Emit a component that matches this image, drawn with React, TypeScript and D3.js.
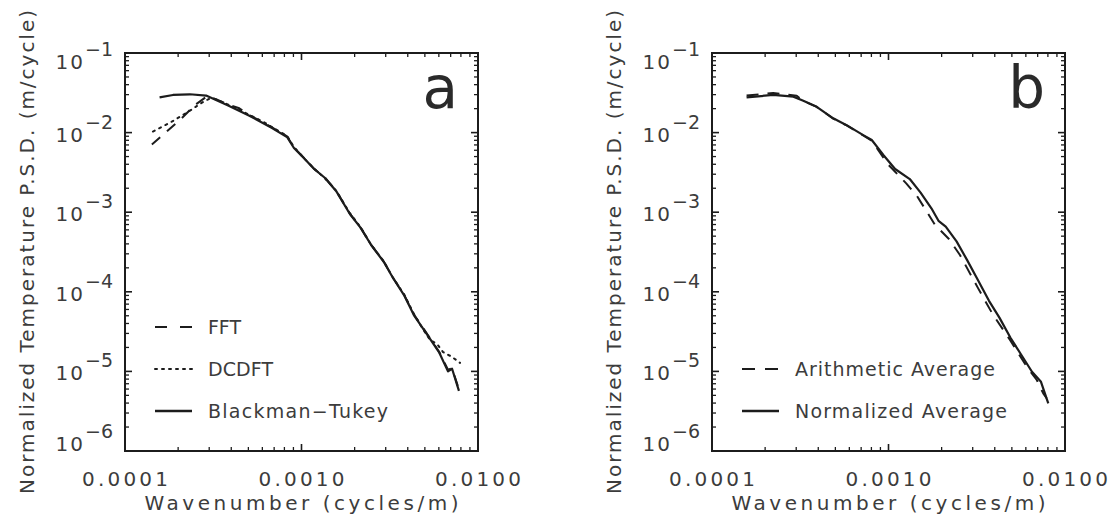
import React from "react";
import * as d3 from "d3";

// ---------- data (wavenumber in cycles/m, PSD in m/cycle) ----------
const xTickValues = [1e-4, 1e-3, 1e-2];
const xTickLabels = ["0.0001", "0.0010", "0.0100"];
const yTickExponents = [-1, -2, -3, -4, -5, -6];
const minorMultipliers = [2, 3, 4, 5, 6, 7, 8, 9];

// Panel a
const fftK = [1.42e-4, 2.05e-4, 2.49e-4, 2.88e-4, 3.3e-4, 3.84e-4, 4.4e-4, 5.1e-4, 5.8e-4, 6.81e-4, 8.28e-4, 9.06e-4, 1.03e-3, 1.18e-3, 1.36e-3, 1.57e-3, 1.88e-3, 2.17e-3, 2.48e-3, 2.93e-3, 3.3e-3, 3.81e-3, 4.33e-3, 5.21e-3, 6.01e-3, 6.76e-3, 7.13e-3, 7.8e-3];
const fftP = [7.1e-3, 1.44e-2, 2.22e-2, 2.8e-2, 2.62e-2, 2.25e-2, 2.04e-2, 1.64e-2, 1.42e-2, 1.16e-2, 9.0e-3, 6.5e-3, 4.85e-3, 3.5e-3, 2.7e-3, 1.86e-3, 9.6e-4, 6.3e-4, 3.9e-4, 2.38e-4, 1.5e-4, 9.2e-5, 5.2e-5, 2.85e-5, 1.78e-5, 1.05e-5, 1.1e-5, 5.9e-6];
const dcdftK = [1.44e-4, 1.84e-4, 2.3e-4, 2.78e-4, 3.1e-4, 3.84e-4, 4.6e-4, 5.1e-4, 6.2e-4, 6.81e-4, 8.28e-4, 9.06e-4, 1.03e-3, 1.18e-3, 1.36e-3, 1.57e-3, 1.88e-3, 2.17e-3, 2.48e-3, 2.93e-3, 3.3e-3, 3.81e-3, 4.33e-3, 4.8e-3, 5.35e-3, 5.86e-3, 6.34e-3, 7.13e-3, 7.91e-3];
const dcdftP = [1.03e-2, 1.37e-2, 1.85e-2, 2.44e-2, 2.75e-2, 2.25e-2, 1.86e-2, 1.66e-2, 1.33e-2, 1.17e-2, 9.1e-3, 6.6e-3, 4.8e-3, 3.52e-3, 2.66e-3, 1.87e-3, 9.7e-4, 6.4e-4, 3.9e-4, 2.4e-4, 1.5e-4, 9.3e-5, 5.3e-5, 3.6e-5, 2.48e-5, 2.21e-5, 1.75e-5, 1.52e-5, 1.28e-5];
const btK = [1.57e-4, 1.87e-4, 2.33e-4, 2.88e-4, 3.84e-4, 5.1e-4, 6.81e-4, 8.28e-4, 9.06e-4, 1.03e-3, 1.18e-3, 1.36e-3, 1.57e-3, 1.88e-3, 2.17e-3, 2.48e-3, 2.93e-3, 3.3e-3, 3.81e-3, 4.33e-3, 5.21e-3, 6.01e-3, 6.76e-3, 7.13e-3, 7.8e-3];
const btP = [2.77e-2, 2.97e-2, 3.03e-2, 2.92e-2, 2.19e-2, 1.62e-2, 1.14e-2, 8.8e-3, 6.4e-3, 4.8e-3, 3.49e-3, 2.69e-3, 1.85e-3, 9.5e-4, 6.3e-4, 3.87e-4, 2.37e-4, 1.49e-4, 9.1e-5, 5.1e-5, 2.79e-5, 1.75e-5, 1.0e-5, 1.08e-5, 5.7e-6];

// Panel b
const arithK = [1.57e-4, 2.22e-4, 3.02e-4, 3.29e-4, 3.92e-4, 4.86e-4, 5.79e-4, 7.19e-4, 8.04e-4, 9.93e-4, 1.26e-3, 1.45e-3, 1.83e-3, 2.2e-3, 2.54e-3, 3.21e-3, 3.88e-3, 4.87e-3, 6.07e-3, 6.92e-3, 7.53e-3, 7.87e-3];
const arithP = [2.92e-2, 3.14e-2, 2.9e-2, 2.5e-2, 2.1e-2, 1.5e-2, 1.23e-2, 9.2e-3, 7.9e-3, 4.0e-3, 2.3e-3, 1.6e-3, 7.0e-4, 4.6e-4, 2.9e-4, 1.12e-4, 5.3e-5, 2.5e-5, 1.15e-5, 7.8e-6, 5.3e-6, 4.6e-6];
const normK = [1.57e-4, 2.22e-4, 2.89e-4, 3.29e-4, 3.92e-4, 4.86e-4, 5.79e-4, 7.19e-4, 8.04e-4, 9.35e-4, 1.09e-3, 1.32e-3, 1.52e-3, 1.75e-3, 1.92e-3, 2.11e-3, 2.43e-3, 2.79e-3, 3.21e-3, 3.71e-3, 4.25e-3, 4.91e-3, 5.65e-3, 6.5e-3, 7.31e-3, 8.04e-3];
const normP = [2.77e-2, 2.97e-2, 2.83e-2, 2.52e-2, 2.11e-2, 1.51e-2, 1.24e-2, 9.3e-3, 8.07e-3, 5.24e-3, 3.49e-3, 2.61e-3, 1.76e-3, 1.12e-3, 7.8e-4, 6.6e-4, 4.3e-4, 2.5e-4, 1.41e-4, 7.7e-5, 4.74e-5, 2.64e-5, 1.62e-5, 9.9e-6, 7.4e-6, 3.97e-6];

const legendLabelsA = ["FFT", "DCDFT", "Blackman\u2212Tukey"];
const legendLabelsB = ["Arithmetic Average", "Normalized Average"];
const panelLetters = ["a", "b"];
const xTitle = "Wavenumber (cycles/m)";
const yTitle = "Normalized Temperature P.S.D. (m/cycle)";

// ---------- layout / style ----------
const W = 1114;
const H = 529;
const TOP = 53;
const BOTTOM = 451;
const PW = 353;
const LEFTS = [125, 712];
const FONT = "'DejaVu Sans', 'Liberation Sans', sans-serif";
const TEXT = "#3c3c3c";
const INK = "#1c1c1c";

type Series = { k: number[]; p: number[]; dash: string | null; width: number };
type LegendItem = { label: string; dash: string | null; len: number };

function Panel(props: {
  left: number;
  series: Series[];
  legend: LegendItem[];
  letter: string;
}) {
  const { left, series, legend, letter } = props;
  const right = left + PW;
  const x = d3.scaleLog().domain([1e-4, 1e-2]).range([left, right]);
  const y = d3.scaleLog().domain([1e-6, 1e-1]).range([BOTTOM, TOP]);
  const line = d3
    .line<[number, number]>()
    .x((d) => x(d[0]))
    .y((d) => y(d[1]));

  const xMinor: number[] = [];
  [1e-4, 1e-3].forEach((d) => minorMultipliers.forEach((m) => xMinor.push(m * d)));
  const yMinor: number[] = [];
  [1e-6, 1e-5, 1e-4, 1e-3, 1e-2].forEach((d) =>
    minorMultipliers.forEach((m) => yMinor.push(m * d))
  );

  const MAJ = 7;
  const MIN = 4;

  return (
    <g>
      {series.map((s, i) => (
        <path
          key={"s" + i}
          d={line(s.k.map((k, j) => [k, s.p[j]] as [number, number])) || ""}
          fill="none"
          stroke={INK}
          strokeWidth={s.width}
          strokeDasharray={s.dash || undefined}
          strokeLinejoin="round"
          strokeLinecap={s.dash === "2,5" ? "round" : "butt"}
        />
      ))}

      {xTickValues.map((v, i) => (
        <g key={"xM" + i}>
          <line x1={x(v)} x2={x(v)} y1={BOTTOM} y2={BOTTOM - MAJ} stroke={INK} strokeWidth={1.6} />
          <line x1={x(v)} x2={x(v)} y1={TOP} y2={TOP + MAJ} stroke={INK} strokeWidth={1.6} />
        </g>
      ))}
      {xMinor.map((v, i) => (
        <g key={"xm" + i}>
          <line x1={x(v)} x2={x(v)} y1={BOTTOM} y2={BOTTOM - MIN} stroke={INK} strokeWidth={1.3} />
          <line x1={x(v)} x2={x(v)} y1={TOP} y2={TOP + MIN} stroke={INK} strokeWidth={1.3} />
        </g>
      ))}
      {yTickExponents.map((e, i) => {
        const yy = y(Math.pow(10, e));
        return (
          <g key={"yM" + i}>
            <line x1={left} x2={left + MAJ} y1={yy} y2={yy} stroke={INK} strokeWidth={1.6} />
            <line x1={right} x2={right - MAJ} y1={yy} y2={yy} stroke={INK} strokeWidth={1.6} />
          </g>
        );
      })}
      {yMinor.map((v, i) => (
        <g key={"ym" + i}>
          <line x1={left} x2={left + MIN} y1={y(v)} y2={y(v)} stroke={INK} strokeWidth={1.3} />
          <line x1={right} x2={right - MIN} y1={y(v)} y2={y(v)} stroke={INK} strokeWidth={1.3} />
        </g>
      ))}

      <rect x={left} y={TOP} width={PW} height={BOTTOM - TOP} fill="none" stroke={INK} strokeWidth={2} />

      {xTickValues.map((v, i) => (
        <text
          key={"xl" + i}
          x={x(v)}
          y={BOTTOM + 35}
          textAnchor="middle"
          fontFamily={FONT}
          fontSize={20}
          fill={TEXT}
          textLength={86}
          lengthAdjust="spacing"
        >
          {xTickLabels[i]}
        </text>
      ))}

      {yTickExponents.map((e, i) => {
        const c = Math.max(TOP + 9, Math.min(BOTTOM - 7, y(Math.pow(10, e)) + 2));
        return (
          <text
            key={"yl" + i}
            x={left - 12}
            y={c + 7}
            textAnchor="end"
            fontFamily={FONT}
            fontSize={20}
            fill={TEXT}
          >
            <tspan letterSpacing={2}>10</tspan>
            <tspan dy={-13} fontSize={19}>
              {"\u2212" + Math.abs(e)}
            </tspan>
          </text>
        );
      })}

      <text
        x={(left + right) / 2}
        y={510}
        textAnchor="middle"
        fontFamily={FONT}
        fontSize={20}
        fill={TEXT}
        textLength={314}
        lengthAdjust="spacing"
      >
        {xTitle}
      </text>
      <text
        transform={`translate(${left - 91},252) rotate(-90)`}
        textAnchor="middle"
        fontFamily={FONT}
        fontSize={20}
        fill={TEXT}
        textLength={484}
        lengthAdjust="spacing"
      >
        {yTitle}
      </text>

      <text
        x={right - 20}
        y={108}
        textAnchor="end"
        fontFamily={FONT}
        fontSize={58}
        fill="#2a2a2a"
      >
        {letter}
      </text>

      {legend.map((item, i) => {
        const ry = BOTTOM - 40 - (legend.length - 1 - i) * 42;
        return (
          <g key={"lg" + i}>
            <line
              x1={left + 30}
              x2={left + 67}
              y1={ry}
              y2={ry}
              stroke={INK}
              strokeWidth={item.dash ? 2 : 2.4}
              strokeDasharray={item.dash || undefined}
              strokeLinecap={item.dash === "2,5" ? "round" : "butt"}
            />
            <text
              x={left + 83}
              y={ry + 7}
              fontFamily={FONT}
              fontSize={19}
              fill={TEXT}
              textLength={item.len}
              lengthAdjust="spacing"
            >
              {item.label}
            </text>
          </g>
        );
      })}
    </g>
  );
}

export default function App() {
  const seriesA: Series[] = [
    { k: fftK, p: fftP, dash: "11,9", width: 2 },
    { k: dcdftK, p: dcdftP, dash: "2,5", width: 2 },
    { k: btK, p: btP, dash: null, width: 2.2 },
  ];
  const seriesB: Series[] = [
    { k: arithK, p: arithP, dash: "12,9", width: 2 },
    { k: normK, p: normP, dash: null, width: 2.2 },
  ];
  const legendA: LegendItem[] = [
    { label: legendLabelsA[0], dash: "12,13", len: 33 },
    { label: legendLabelsA[1], dash: "2,5", len: 65 },
    { label: legendLabelsA[2], dash: null, len: 180 },
  ];
  const legendB: LegendItem[] = [
    { label: legendLabelsB[0], dash: "13,10", len: 200 },
    { label: legendLabelsB[1], dash: null, len: 212 },
  ];
  return (
    <svg
      width={W}
      height={H}
      viewBox={`0 0 ${W} ${H}`}
      style={{ position: "absolute", left: 0, top: 0, background: "#fff" }}
    >
      <rect x={0} y={0} width={W} height={H} fill="#fff" />
      <Panel left={LEFTS[0]} series={seriesA} legend={legendA} letter={panelLetters[0]} />
      <Panel left={LEFTS[1]} series={seriesB} legend={legendB} letter={panelLetters[1]} />
    </svg>
  );
}
